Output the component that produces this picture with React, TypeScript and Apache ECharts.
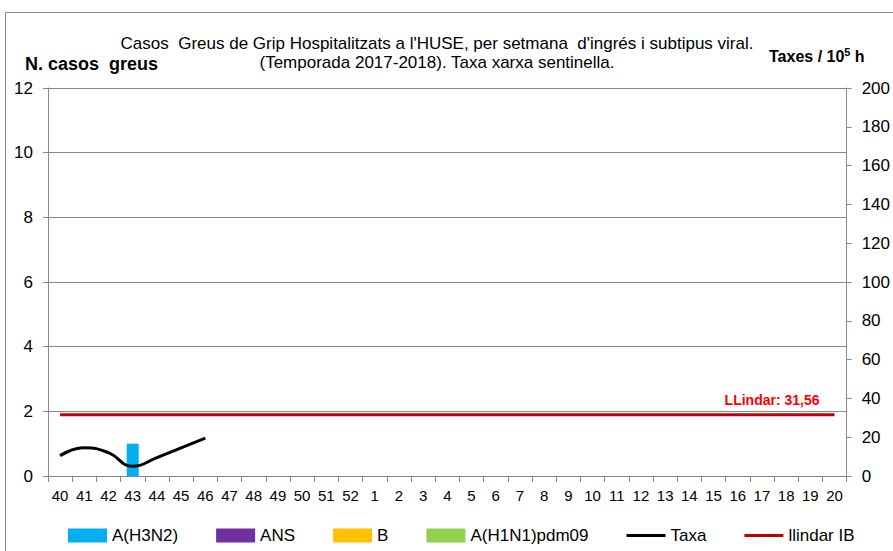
import React, { useEffect, useRef } from "react";
import * as echarts from "echarts";

const weeks: string[] = [
  "40","41","42","43","44","45","46","47","48","49","50","51","52",
  "1","2","3","4","5","6","7","8","9","10","11","12","13","14","15","16","17","18","19","20",
];
const h3n2: (number | null)[] = [0,0,0,1,0,0,0,0,0,0,0,0,0,0,0,0,0,0,0,0,0,0,0,0,0,0,0,0,0,0,0,0,0];
const ans: (number | null)[] = weeks.map(() => 0);
const bVals: (number | null)[] = weeks.map(() => 0);
const h1n1: (number | null)[] = weeks.map(() => 0);
const taxa: (number | null)[] = [10.5, 14.5, 12, 5, 9.5, 14.5, 19.5];
const llindarValue = 31.56;
const llindarLabel = "LLindar: 31,56";
const llindar: number[] = weeks.map(() => llindarValue);

const FONT = "'Liberation Sans', Arial, sans-serif";
const LINE_ICON = "path://M0,0L0.001,0L0,0.001ZM0,5.5L39,5.5L39,8.5L0,8.5ZM39,14L38.999,14L39,13.999Z";

export default function App() {
  const ref = useRef<HTMLDivElement>(null);
  useEffect(() => {
    if (!ref.current) return;
    const chart = echarts.init(ref.current, null, { renderer: "svg" });
    const barBase = {
      type: "bar" as const,
      stack: "casos",
      barWidth: 12,
      yAxisIndex: 0,
    };
    chart.setOption({
      animation: false,
      textStyle: { fontFamily: FONT },
      graphic: [
        {
          type: "rect",
          shape: { x: 5.5, y: 12.5, width: 1000, height: 1000 },
          style: { fill: "none", stroke: "#8c8c8c", lineWidth: 1 },
          silent: true,
        },
        {
          type: "text",
          x: 437,
          y: 43,
          style: {
            text: "Casos  Greus de Grip Hospitalitzats a l'HUSE, per setmana  d'ingrés i subtipus viral.",
            font: `17px ${FONT}`,
            fill: "#000",
            align: "center",
            verticalAlign: "middle",
          },
        },
        {
          type: "text",
          x: 437,
          y: 62,
          style: {
            text: "(Temporada 2017-2018). Taxa xarxa sentinella.",
            font: `17px ${FONT}`,
            fill: "#000",
            align: "center",
            verticalAlign: "middle",
          },
        },
        {
          type: "text",
          x: 25,
          y: 64,
          style: {
            text: "N. casos  greus",
            font: `bold 18px ${FONT}`,
            fill: "#000",
            align: "left",
            verticalAlign: "middle",
          },
        },
        {
          type: "text",
          x: 769,
          y: 56,
          style: {
            text: "{a|Taxes / 10}{s|5}{a| h}",
            fill: "#000",
            align: "left",
            verticalAlign: "middle",
            rich: {
              a: { fontFamily: FONT, fontWeight: "bold", fontSize: 16, fill: "#000" },
              s: { fontFamily: FONT, fontWeight: "bold", fontSize: 11, fill: "#000", verticalAlign: "top", padding: [0, 0, 8, 0] },
            },
          },
        },
      ],
      legend: {
        left: 63,
        top: 522,
        itemWidth: 39,
        itemHeight: 14,
        itemGap: 38,
        textStyle: { fontFamily: FONT, fontSize: 17, color: "#000" },
        data: [
          { name: "A(H3N2)", icon: "rect" },
          { name: "ANS", icon: "rect" },
          { name: "B", icon: "rect" },
          { name: "A(H1N1)pdm09", icon: "rect" },
          { name: "Taxa", icon: LINE_ICON },
          { name: "llindar IB", icon: LINE_ICON },
        ],
      },
      grid: { left: 48, right: 42, top: 88, bottom: 75, containLabel: false },
      xAxis: {
        type: "category",
        data: weeks,
        axisLine: { lineStyle: { color: "#888" } },
        axisTick: { show: true, alignWithLabel: false, length: 6, lineStyle: { color: "#888" } },
        axisLabel: { color: "#000", fontSize: 15, margin: 12, interval: 0, fontFamily: FONT },
      },
      yAxis: [
        {
          type: "value",
          min: 0,
          max: 12,
          interval: 2,
          axisLine: { show: true, lineStyle: { color: "#888" } },
          axisTick: { show: true, length: 5, lineStyle: { color: "#888" } },
          axisLabel: { color: "#000", fontSize: 17, margin: 15, fontFamily: FONT },
          splitLine: { show: true, lineStyle: { color: "#888", width: 1 } },
        },
        {
          type: "value",
          min: 0,
          max: 200,
          interval: 20,
          position: "right",
          axisLine: { show: true, lineStyle: { color: "#888" } },
          axisTick: { show: true, length: 5, lineStyle: { color: "#888" } },
          axisLabel: { color: "#000", fontSize: 17, margin: 15, fontFamily: FONT },
          splitLine: { show: false },
        },
      ],
      series: [
        { ...barBase, name: "A(H3N2)", data: h3n2, itemStyle: { color: "#00b0f0" } },
        { ...barBase, name: "ANS", data: ans, itemStyle: { color: "#7030a0" } },
        { ...barBase, name: "B", data: bVals, itemStyle: { color: "#ffc000" } },
        { ...barBase, name: "A(H1N1)pdm09", data: h1n1, itemStyle: { color: "#92d050" } },
        {
          type: "line",
          name: "Taxa",
          yAxisIndex: 1,
          data: taxa,
          smooth: true,
          showSymbol: false,
          symbol: "none",
          lineStyle: { color: "#000", width: 3 },
          itemStyle: { color: "#000" },
          z: 5,
        },
        {
          type: "line",
          name: "llindar IB",
          yAxisIndex: 1,
          data: llindar,
          showSymbol: false,
          symbol: "none",
          lineStyle: { color: "#c00000", width: 3 },
          itemStyle: { color: "#c00000" },
          z: 4,
          markPoint: {
            symbol: "circle",
            symbolSize: 1,
            itemStyle: { color: "rgba(0,0,0,0)" },
            data: [
              {
                coord: [weeks.length - 1, llindarValue],
                label: {
                  show: true,
                  formatter: llindarLabel,
                  position: "top",
                  align: "right",
                  offset: [-15, -2],
                  color: "#ff0000",
                  fontWeight: "bold",
                  fontSize: 14,
                  fontFamily: FONT,
                },
              },
            ],
          },
        },
      ],
    });
    return () => chart.dispose();
  }, []);
  return (
    <div
      ref={ref}
      style={{ position: "absolute", left: 0, top: 0, width: 893, height: 551, background: "#fff" }}
    />
  );
}
